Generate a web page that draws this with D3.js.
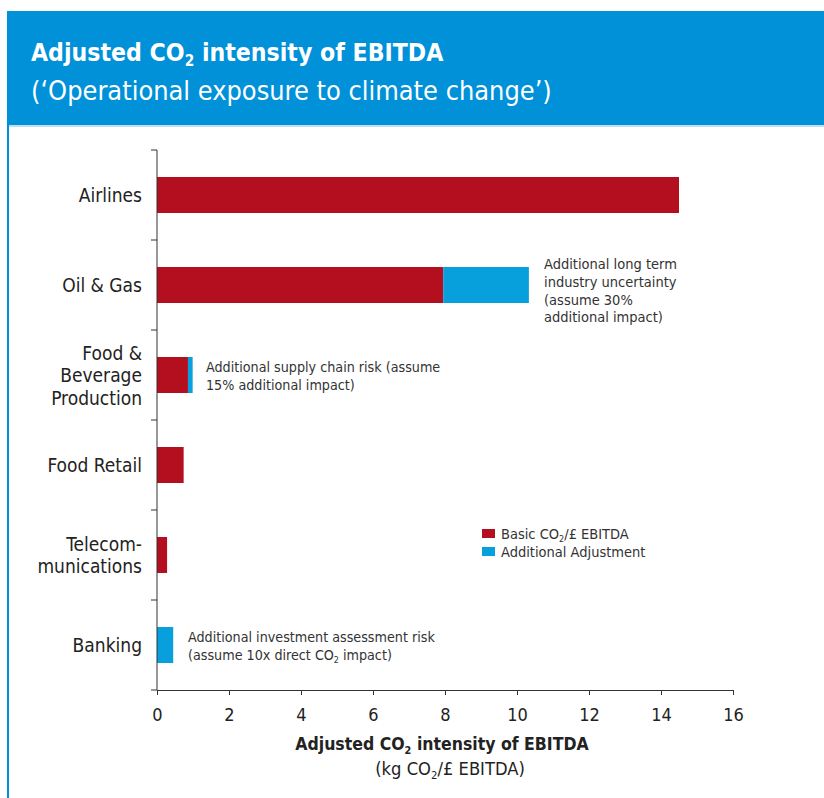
<!DOCTYPE html>
<html>
<head>
<meta charset="utf-8">
<script src="https://cdn.jsdelivr.net/npm/d3@7"></script>
<style>
  html, body { margin: 0; padding: 0; background: #fff; }
  svg { display: block; }
  text { font-family: "DejaVu Sans Condensed", "DejaVu Sans", sans-serif; }
</style>
</head>
<body>
<svg id="chart" width="824" height="798"></svg>
<script>
// Sectors, top to bottom
const categories = ["Airlines", "Oil & Gas", "Food & Beverage Production", "Food Retail", "Telecommunications", "Banking"];
// Label lines as printed beside the axis
const categoryLines = [["Airlines"], ["Oil & Gas"], ["Food &", "Beverage", "Production"], ["Food Retail"], ["Telecom-", "munications"], ["Banking"]];
// kg CO2 per £ EBITDA
const basicValues = [14.5, 7.95, 0.86, 0.74, 0.28, 0];
const adjustmentValues = [0, 2.38, 0.13, 0, 0, 0.45];
const xTicks = [0, 2, 4, 6, 8, 10, 12, 14, 16];
const seriesNames = ["Basic CO2/£ EBITDA", "Additional Adjustment"];
const notes = [
  { category: "Oil & Gas", lines: ["Additional long term", "industry uncertainty", "(assume 30%", "additional impact)"] },
  { category: "Food & Beverage Production", lines: ["Additional supply chain risk (assume", "15% additional impact)"] },
  { category: "Banking", lines: ["Additional investment assessment risk", "(assume 10x direct CO2 impact)"] }
];

const RED = "#b30f1e", BLUE = "#079fdc", HEADER = "#0091d9", INK = "#222";

const svg = d3.select("#chart");

// Header band and frame edge
svg.append("rect").attr("x", 7).attr("y", 11).attr("width", 817).attr("height", 114).attr("fill", HEADER);
svg.append("rect").attr("x", 7).attr("y", 125).attr("width", 817).attr("height", 2).attr("fill", "#bfe0f4");
svg.append("rect").attr("x", 7).attr("y", 11).attr("width", 2).attr("height", 787).attr("fill", HEADER);

// Write text with "CO2" subscripted
function richText(sel, str, size) {
  const parts = str.split("CO2");
  let shift = 0;
  parts.forEach((p, i) => {
    if (p) {
      const t = sel.append("tspan").text(p);
      if (shift) { t.attr("dy", -shift); shift = 0; }
    }
    if (i < parts.length - 1) {
      sel.append("tspan").text("CO");
      sel.append("tspan").attr("font-size", size * 0.62).attr("dy", size * 0.2).text("2");
      shift = size * 0.2;
    }
  });
  return sel;
}

richText(svg.append("text").attr("x", 31).attr("y", 61).attr("fill", "#fff")
  .attr("font-size", 24.6).attr("font-weight", "bold"), "Adjusted CO2 intensity of EBITDA", 24.6);
svg.append("text").attr("x", 31).attr("y", 100).attr("fill", "#fff").attr("font-size", 26.9)
  .text("(\u2018Operational exposure to climate change\u2019)");

const margin = { left: 157, right: 733, top: 150, bottom: 690 };
const x = d3.scaleLinear().domain([0, 16]).range([margin.left, margin.right]);
const y = d3.scaleBand().domain(categories).range([margin.top, margin.bottom]).paddingInner(0.6).paddingOuter(0.3);

// Stacked bars
const rows = categories.map((c, i) => ({ category: c, basic: basicValues[i], adj: adjustmentValues[i] }));
const stack = d3.stack().keys(["basic", "adj"])(rows);
const colors = [RED, BLUE];
stack.forEach((layer, k) => {
  svg.append("g").selectAll("rect").data(layer).join("rect")
    .attr("x", d => x(d[0]))
    .attr("width", d => x(d[1]) - x(d[0]))
    .attr("y", d => y(d.data.category))
    .attr("height", y.bandwidth())
    .attr("fill", colors[k]);
});

// X axis
const xAxis = svg.append("g").attr("transform", `translate(0,${margin.bottom})`)
  .call(d3.axisBottom(x).tickValues(xTicks).tickSize(5).tickPadding(13).tickFormat(d3.format("d")));
xAxis.select(".domain").attr("stroke", "#333");
xAxis.selectAll(".tick line").attr("stroke", "#333");
xAxis.selectAll(".tick text").attr("font-size", 18).attr("fill", INK)
  .style("font-family", "'DejaVu Sans Condensed', sans-serif");

// Y axis line with ticks at band boundaries
const bounds = d3.range(categories.length + 1).map(i => margin.top + i * (margin.bottom - margin.top) / categories.length);
svg.append("line").attr("x1", margin.left).attr("x2", margin.left)
  .attr("y1", margin.top).attr("y2", margin.bottom).attr("stroke", "#333");
svg.append("g").selectAll("line").data(bounds).join("line")
  .attr("x1", margin.left - 6).attr("x2", margin.left)
  .attr("y1", d => d).attr("y2", d => d).attr("stroke", "#333");

// Category labels
const lineH = 22.5;
categories.forEach((c, i) => {
  const lines = categoryLines[i];
  const cy = y(c) + y.bandwidth() / 2;
  const t = svg.append("text").attr("text-anchor", "end").attr("font-size", 19).attr("fill", INK);
  lines.forEach((l, j) => {
    t.append("tspan").attr("x", 142)
      .attr("y", cy + 7 + (j - (lines.length - 1) / 2) * lineH).text(l);
  });
});

// Notes beside bars
const noteX = { "Oil & Gas": 544, "Food & Beverage Production": 206, "Banking": 188 };
const noteTop = { "Oil & Gas": 2, "Food & Beverage Production": 15, "Banking": 15 };
const noteSize = { "Oil & Gas": 14.5, "Food & Beverage Production": 14.2, "Banking": 14.2 };
notes.forEach(n => {
  const top = y(n.category) + noteTop[n.category];
  const fs = noteSize[n.category];
  n.lines.forEach((l, j) => {
    richText(svg.append("text").attr("x", noteX[n.category]).attr("y", top + j * 17.8)
      .attr("font-size", fs).attr("fill", "#333"), l, fs);
  });
});

// Legend
const lg = svg.append("g").attr("transform", "translate(482,529)");
seriesNames.forEach((s, i) => {
  lg.append("rect").attr("x", 0).attr("y", i * 18).attr("width", 13).attr("height", 9).attr("fill", colors[i]);
  richText(lg.append("text").attr("x", 19).attr("y", i * 18 + 10).attr("font-size", 14.5).attr("fill", "#333"), s, 14.5);
});

// Axis titles
richText(svg.append("text").attr("x", 442).attr("y", 750).attr("text-anchor", "middle")
  .attr("font-size", 17.5).attr("font-weight", "bold").attr("fill", INK), "Adjusted CO2 intensity of EBITDA", 17.5);
richText(svg.append("text").attr("x", 450).attr("y", 775).attr("text-anchor", "middle")
  .attr("font-size", 18.2).attr("fill", INK), "(kg CO2/£ EBITDA)", 18.2);
</script>
</body>
</html>
